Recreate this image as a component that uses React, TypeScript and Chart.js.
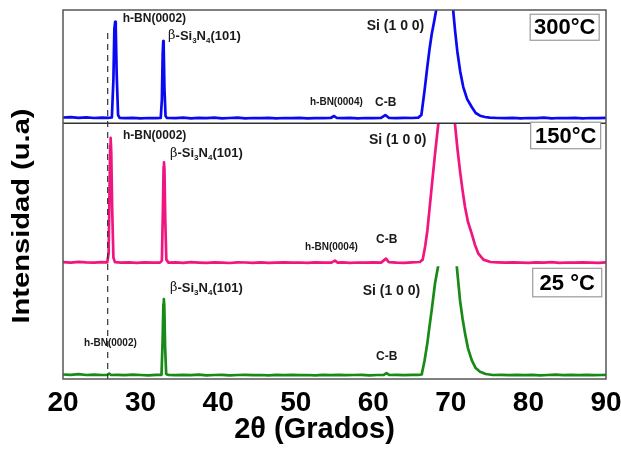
import React, { useEffect, useRef } from "react";
import { Chart, registerables } from "chart.js";
Chart.register(...registerables);

const FONT = "'Liberation Sans', Arial, Helvetica, sans-serif";

const xTickValues = [20, 30, 40, 50, 60, 70, 80, 90];
const xAxisTitle = "2θ (Grados)";
const yAxisTitle = "Intensidad (u.a)";

// 300 °C pattern (2θ, intensity above its baseline)
const theta300 = [
  20, 21, 22, 23, 24, 25, 25.8, 26.3, 26.5, 26.62,
  26.72, 26.8, 26.92, 27.1, 27.3, 28, 29, 30, 31, 32,
  32.6, 32.75, 32.85, 32.92, 32.98, 33.08, 33.22, 33.4, 34.5, 35.5,
  36.5, 37.5, 38.5, 39.5, 40.5, 41.5, 42.5, 43.5, 44.5, 45.5,
  46.5, 47.5, 48.5, 49.5, 50.5, 51.5, 52.5, 53.5, 54.5, 54.95,
  55.3, 56, 57, 58, 59, 60, 61, 61.55, 62, 63,
  64, 65, 65.8, 66.2, 66.6, 66.96, 67.25, 67.53, 67.85, 68.17,
  68.5, 69.2, 69.9, 70.31, 70.55, 70.83, 71.2, 71.6, 72.1, 72.69,
  73.2, 73.76, 74.4, 75, 76, 77, 78, 79, 80, 81,
  82, 83, 84, 85, 86, 87, 88, 89, 90,
];
const int300 = [
  1.5, 1.8, 1.2, 1.6, 1.0, 1.3, 1.2, 1.5, 40, 90,
  97.5, 92, 45, 4, 1.2, 0.8, 1.2, 0.6, 1.0, 0.8,
  1.0, 20, 65, 78, 72, 30, 3, 1.0, 0.8, 1.3,
  0.6, 1.1, 0.9, 1.4, 0.7, 1.0, 1.3, 0.6, 1.0, 0.8,
  1.2, 0.7, 1.0, 0.8, 1.2, 0.6, 0.9, 0.8, 1.0, 3.0,
  1.0, 0.8, 1.1, 0.7, 1.0, 0.8, 1.2, 4.0, 1.2, 0.8,
  1.1, 1.0, 1.4, 4, 28, 52, 70, 85, 98, 112,
  170, 320, 190, 108, 88, 68, 48, 32, 20, 12,
  6, 3.3, 2.0, 1.3, 1.0, 0.8, 1.2, 0.7, 1.0, 0.9,
  1.3, 0.6, 1.0, 0.8, 1.2, 0.7, 1.0, 0.9, 1.1,
];

// 150 °C pattern
const theta150 = [
  20, 21, 22, 23, 24, 25, 25.7, 25.88, 26.0, 26.08,
  26.14, 26.22, 26.34, 26.5, 26.7, 27.5, 28.5, 29.5, 30.5, 31.5,
  32.5, 32.75, 32.88, 32.97, 33.02, 33.08, 33.18, 33.32, 33.6, 34.5,
  35.5, 36.5, 37.5, 38.5, 39.5, 40.5, 41.5, 42.5, 43.5, 44.5,
  45.5, 46.5, 47.5, 48.5, 49.5, 50.5, 51.5, 52.5, 53.5, 54.6,
  55.06, 55.4, 56, 57, 58, 59, 60, 61, 61.64, 62,
  63, 64, 65, 66.0, 66.37, 66.7, 66.97, 67.25, 67.53, 67.96,
  68.38, 68.8, 69.45, 70.1, 70.53, 70.85, 71.18, 71.5, 71.82, 72.2,
  72.69, 73.1, 73.55, 74.2, 75.1, 76, 77, 78, 79, 80,
  81, 82, 83, 84, 85, 86, 87, 88, 89, 90,
];
const int150 = [
  1.5, 1.0, 1.8, 1.2, 1.0, 1.4, 1.2, 10, 75, 118,
  126, 112, 55, 6, 1.5, 1.0, 1.3, 0.8, 1.2, 0.9,
  1.0, 3, 55, 97, 101.5, 94, 45, 4, 1.0, 1.2,
  0.8, 1.4, 1.0, 0.7, 1.2, 1.0, 0.6, 1.3, 1.1, 0.8,
  1.2, 0.7, 1.0, 1.3, 0.9, 1.1, 0.7, 1.2, 1.0, 1.0,
  3.0, 1.0, 1.2, 0.8, 1.1, 0.9, 1.3, 1.0, 5.0, 1.4,
  1.0, 0.8, 1.2, 1.6, 4, 18, 33, 55, 77, 110,
  140, 220, 330, 220, 140, 115, 93, 74, 57, 42,
  30, 19, 10, 4, 1.6, 1.2, 0.9, 1.3, 1.0, 0.7,
  1.2, 1.0, 1.4, 0.8, 1.1, 0.9, 1.3, 1.0, 0.8, 1.2,
];

// 25 °C pattern
const theta25 = [
  20, 21, 22, 23, 24, 25, 25.7, 25.95, 26.2, 27,
  28, 29, 30, 31, 32, 32.7, 32.84, 32.94, 33.0, 33.06,
  33.16, 33.3, 33.6, 34.5, 35.5, 36.5, 37.5, 38.5, 39.5, 40.5,
  41.5, 42.5, 43.5, 44.5, 45.5, 46.5, 47.5, 48.5, 49.5, 50.5,
  51.5, 52.5, 53.5, 54.5, 55.5, 56.5, 57.5, 58.5, 59.5, 60.5,
  61.3, 61.7, 62.1, 63, 64, 65, 65.8, 66.24, 66.6, 66.97,
  67.25, 67.53, 67.96, 68.38, 68.8, 69.55, 70.3, 70.75, 71.18, 71.5,
  71.82, 72.2, 72.69, 73.2, 73.76, 74.5, 75.4, 76.5, 77.5, 78.5,
  79.5, 80.5, 81.5, 82.5, 83.5, 84.5, 85.5, 86.5, 87.5, 88.5,
  89.5, 90,
];
const int25 = [
  1.5, 1.2, 1.8, 1.0, 1.3, 1.0, 1.2, 2.5, 1.0, 1.2,
  0.8, 1.3, 1.0, 0.7, 1.1, 1.2, 35, 72, 77, 70,
  30, 2, 1.0, 0.8, 1.2, 0.9, 1.3, 0.7, 1.0, 1.1,
  0.6, 1.0, 1.2, 0.8, 1.0, 0.7, 1.1, 0.9, 1.2, 0.8,
  1.0, 0.7, 1.1, 0.9, 1.2, 0.8, 1.0, 1.1, 0.7, 1.0,
  1.0, 3.0, 1.0, 1.2, 0.8, 1.1, 1.2, 1.5, 15, 33,
  50, 66, 93, 111, 190, 300, 190, 111, 76, 58,
  43, 28, 16, 8, 4.3, 2, 1.0, 1.2, 0.8, 1.1,
  0.9, 1.2, 0.7, 1.0, 1.3, 0.8, 1.1, 0.9, 1.2, 0.8,
  1.0, 1.1,
];

// vertical stacking: baseline offset and panel top (axis units)
const baselines = [260.7, 115.7, 3];
const panelTops = [370, 256.5, 113];
const seriesColors = ["#0a0af2", "#f0157f", "#178a17"];
const yMax = 370;

const dashedLineTheta = 25.76;
const dashedLineTop = 347;

// peak annotations: text ("_" marks a subscript char), left x (2θ), center y (axis units), font size
const peakLabels = [
  { text: "h-BN(0002)", x: 27.7, y: 361.7, size: 12 },
  { text: "β-Si_3N_4(101)", x: 33.54, y: 344, size: 13 },
  { text: "h-BN(0004)", x: 51.84, y: 277, size: 10 },
  { text: "C-B", x: 60.22, y: 277.3, size: 12 },
  { text: "Si (1 0 0)", x: 59.15, y: 354, size: 14 },
  { text: "h-BN(0002)", x: 27.73, y: 244, size: 12 },
  { text: "β-Si_3N_4(101)", x: 33.79, y: 226.3, size: 13 },
  { text: "h-BN(0004)", x: 51.2, y: 132.3, size: 10 },
  { text: "C-B", x: 60.35, y: 140, size: 12 },
  { text: "Si (1 0 0)", x: 59.44, y: 240, size: 14 },
  { text: "β-Si_3N_4(101)", x: 33.79, y: 91.3, size: 13 },
  { text: "h-BN(0002)", x: 22.71, y: 36.3, size: 10 },
  { text: "Si (1 0 0)", x: 58.63, y: 88, size: 14 },
  { text: "C-B", x: 60.35, y: 22.3, size: 12 },
];

// temperature boxes: center in data units
const tempBoxes = [
  { text: "300°C", x: 84.67, y: 352.7, w: 69, h: 26 },
  { text: "150°C", x: 84.8, y: 244.2, w: 70, h: 26.5 },
  { text: "25 °C", x: 85.0, y: 96.7, w: 69, h: 28.5 },
];

function drawRichText(ctx: CanvasRenderingContext2D, text: string, x: number, y: number, size: number) {
  let cx = x;
  ctx.textBaseline = "middle";
  ctx.textAlign = "left";
  for (let i = 0; i < text.length; i++) {
    const ch = text[i];
    if (ch === "_") {
      const s = text[i + 1];
      i++;
      ctx.font = `bold ${Math.round(size * 0.6)}px ${FONT}`;
      ctx.fillText(s, cx, y + size * 0.35);
      cx += ctx.measureText(s).width;
    } else if (ch === "β") {
      ctx.font = `${size}px 'DejaVu Serif', serif`;
      ctx.fillText(ch, cx, y);
      cx += ctx.measureText(ch).width;
    } else {
      ctx.font = `bold ${size}px ${FONT}`;
      ctx.fillText(ch, cx, y);
      cx += ctx.measureText(ch).width;
    }
  }
}

const panelPlugin = {
  id: "panelPlugin",
  beforeDatasetDraw(chart: any, args: any) {
    const { ctx, chartArea, scales } = chart;
    const top = Math.max(chartArea.top, scales.y.getPixelForValue(panelTops[args.index]));
    ctx.save();
    ctx.beginPath();
    ctx.rect(chartArea.left, top, chartArea.right - chartArea.left, chartArea.bottom - top);
    ctx.clip();
  },
  afterDatasetDraw(chart: any) {
    chart.ctx.restore();
  },
  afterDraw(chart: any) {
    const { ctx, chartArea, scales } = chart;
    const xs = scales.x;
    const ys = scales.y;
    ctx.save();

    // dashed reference line
    ctx.strokeStyle = "#333";
    ctx.lineWidth = 1.2;
    ctx.setLineDash([6, 5]);
    const dx = xs.getPixelForValue(dashedLineTheta);
    ctx.beginPath();
    ctx.moveTo(dx, ys.getPixelForValue(dashedLineTop));
    ctx.lineTo(dx, chartArea.bottom);
    ctx.stroke();
    ctx.setLineDash([]);

    // separator between top and middle panel
    const sy = ys.getPixelForValue(panelTops[1]);
    ctx.strokeStyle = "#333";
    ctx.lineWidth = 1.5;
    ctx.beginPath();
    ctx.moveTo(chartArea.left, sy);
    ctx.lineTo(chartArea.right, sy);
    ctx.stroke();

    // frame
    ctx.strokeStyle = "#555";
    ctx.lineWidth = 1.5;
    ctx.strokeRect(chartArea.left, chartArea.top, chartArea.right - chartArea.left, chartArea.bottom - chartArea.top);

    // peak labels
    ctx.fillStyle = "#1a1a1a";
    peakLabels.forEach((l) => {
      drawRichText(ctx, l.text, xs.getPixelForValue(l.x), ys.getPixelForValue(l.y), l.size);
    });

    // temperature boxes
    tempBoxes.forEach((b) => {
      const cx = xs.getPixelForValue(b.x);
      const cy = ys.getPixelForValue(b.y);
      ctx.fillStyle = "#fff";
      ctx.fillRect(cx - b.w / 2, cy - b.h / 2, b.w, b.h);
      ctx.strokeStyle = "#9a9a9a";
      ctx.lineWidth = 1.2;
      ctx.strokeRect(cx - b.w / 2, cy - b.h / 2, b.w, b.h);
      ctx.fillStyle = "#000";
      ctx.font = `bold 22px ${FONT}`;
      ctx.textAlign = "center";
      ctx.textBaseline = "middle";
      ctx.fillText(b.text, cx, cy + 1);
    });

    // x axis title
    ctx.fillStyle = "#000";
    ctx.font = `bold 29px ${FONT}`;
    ctx.textAlign = "center";
    ctx.textBaseline = "alphabetic";
    ctx.fillText(xAxisTitle, 314.5, 438);

    // y axis title (stretched along its length as in the original)
    ctx.save();
    ctx.translate(22.5, 216);
    ctx.rotate(-Math.PI / 2);
    ctx.font = `bold 23px ${FONT}`;
    const w = ctx.measureText(yAxisTitle).width;
    ctx.scale(215 / w, 1);
    ctx.textAlign = "center";
    ctx.textBaseline = "middle";
    ctx.fillText(yAxisTitle, 0, 0);
    ctx.restore();

    ctx.restore();
  },
};

export default function App() {
  const ref = useRef<HTMLCanvasElement>(null);
  useEffect(() => {
    document.body.style.margin = "0";
    const series = [
      { label: "300°C", theta: theta300, ints: int300 },
      { label: "150°C", theta: theta150, ints: int150 },
      { label: "25 °C", theta: theta25, ints: int25 },
    ];
    const chart = new Chart(ref.current!, {
      type: "line",
      data: {
        datasets: series.map((s, i) => ({
          label: s.label,
          data: s.theta.map((t, j) => ({ x: t, y: baselines[i] + s.ints[j] })),
          borderColor: seriesColors[i],
          borderWidth: 2.7,
          borderJoinStyle: "round",
          borderCapStyle: "round",
          pointRadius: 0,
          tension: 0,
          fill: false,
        })),
      },
      options: {
        responsive: false,
        animation: false,
        devicePixelRatio: 1,
        layout: { padding: { top: 10, right: 15, left: 0, bottom: 0 } },
        plugins: { legend: { display: false }, tooltip: { enabled: false }, title: { display: false } },
        scales: {
          x: {
            type: "linear",
            min: 20,
            max: 90,
            afterBuildTicks: (s: any) => {
              s.ticks = xTickValues.map((v) => ({ value: v }));
            },
            afterFit: (s: any) => {
              s.height = 75;
              s.paddingLeft = 0;
              s.paddingRight = 0;
            },
            grid: { display: false },
            border: { display: false },
            ticks: {
              color: "#000",
              padding: -1,
              maxRotation: 0,
              autoSkip: false,
              font: { family: FONT, size: 28, weight: "bold" },
            },
          },
          y: {
            type: "linear",
            min: 0,
            max: yMax,
            afterFit: (s: any) => {
              s.width = 63;
            },
            grid: { display: false },
            border: { display: false },
            ticks: { display: false },
          },
        },
      },
      plugins: [panelPlugin],
    } as any);
    return () => chart.destroy();
  }, []);
  return (
    <div style={{ width: 621, height: 454 }}>
      <canvas ref={ref} width={621} height={454} style={{ display: "block" }} />
    </div>
  );
}
